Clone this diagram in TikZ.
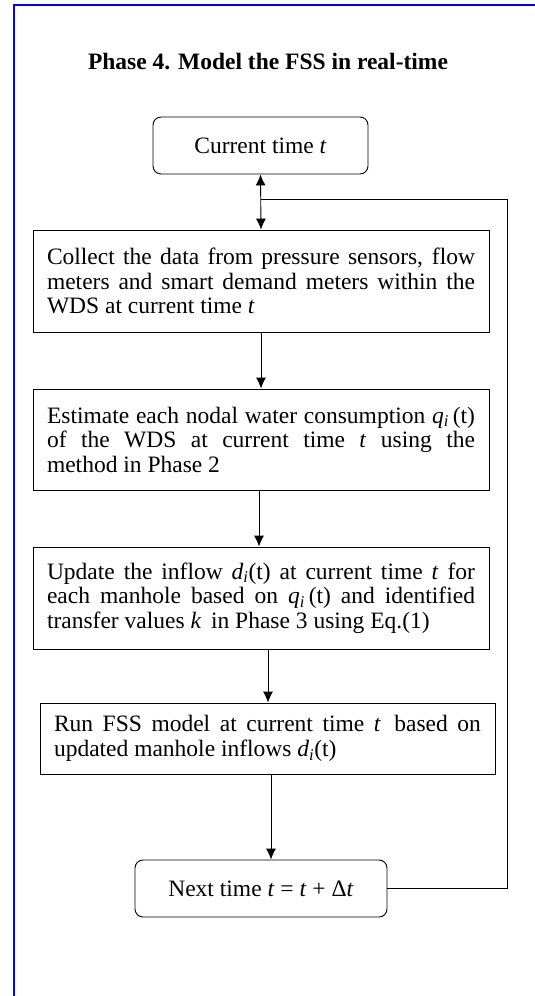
\documentclass[tikz,border=0pt]{standalone}
\usepackage{fontspec}
\setmainfont{Liberation Serif}
\usetikzlibrary{arrows.meta}

\tikzset{
  stepbox/.style={draw, line width=0.9pt, text width=#1, align=justify,
                  inner xsep=14pt, inner ysep=4pt, font=\fontsize{23.5}{24.5}\selectfont},
  endbox/.style={draw, line width=0.9pt, rounded corners=8pt, align=center,
                 font=\fontsize{23.5}{24.5}\selectfont},
}

\begin{document}
\begin{tikzpicture}[x=1pt, y=-1pt, >={Latex[length=11pt,width=10pt]}, line width=0.9pt]

  \useasboundingbox (0,0) rectangle (535,996);
  \draw [blue, line width=1.6pt] (14,996) -- (14,5) -- (535,5);

  \node (title) at (268,62) {\fontsize{23.5}{26}\selectfont\bfseries Phase 4. Model the FSS in real-time};

  \node (cur) at (260.5,145.5) [endbox, minimum width=215pt, minimum height=57pt] {Current time \textit{t}};
  \node (col) at (261,281) [stepbox=428pt, minimum height=102pt]
    {Collect the data from pressure sensors, flow\linebreak meters and smart demand meters within the\linebreak WDS at current time \textit{t}};
  \node (est) at (261,439.5) [stepbox=428pt, minimum height=101pt]
    {Estimate each nodal water consumption \textit{q\textsubscript{i}}\,(t)\linebreak of the WDS at current time \textit{t} using the\linebreak method in Phase 2};
  \node (upd) at (261,598) [stepbox=428pt, minimum height=102pt]
    {Update the inflow \textit{d\textsubscript{i}}(t) at current time \textit{t} for\linebreak each manhole based on \textit{q\textsubscript{i}}\,(t) and identified\linebreak transfer values \textit{k}\, in Phase 3 using Eq.(1)};
  \node (run) at (267.5,738.5) [stepbox=427pt, minimum height=71pt]
    {Run FSS model at current time \textit{t}\, based on\linebreak updated manhole inflows \textit{d\textsubscript{i}}(t)};
  \node (nxt) at (261,888.5) [endbox, minimum width=252pt, minimum height=57pt] {Next time \textit{t} = \textit{t} + Δ\textit{t}};

  \coordinate (turn) at (507,199);
  \coordinate (join) at (261,199);

  \draw [<->] (cur.south) -- (col.north);
  \draw [->] (col.south) -- (est.north);
  \draw [->] ([xshift=-2pt]est.south) -- ([xshift=-2pt]upd.north);
  \draw [->] ([xshift=7pt]upd.south) -- ([xshift=0.5pt]run.north);
  \draw [->] ([xshift=3.5pt]run.south) -- ([xshift=10pt]nxt.north);
  \draw (nxt.east) -| (turn) -- (join);

\end{tikzpicture}
\end{document}
